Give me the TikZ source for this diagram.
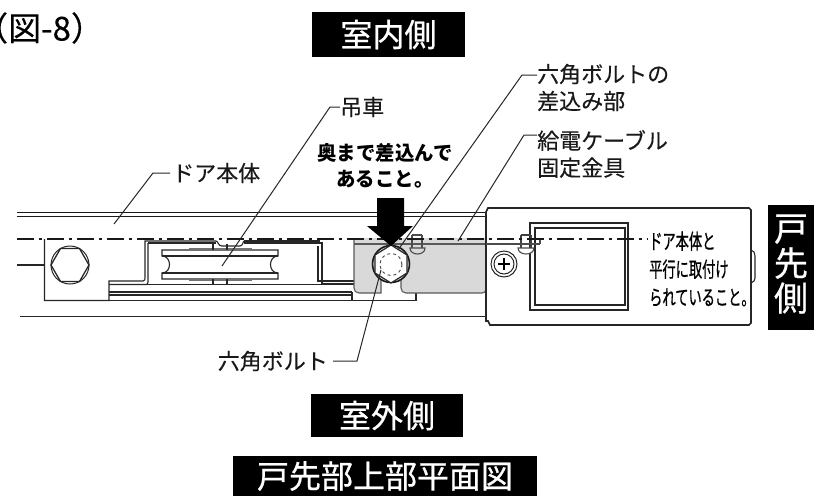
\documentclass[tikz,border=0pt]{standalone}
\usepackage{fontspec}
\setmainfont{Noto Sans CJK JP}[FakeBold=0.25]
\newfontfamily\condfont{Noto Sans CJK JP}[FakeStretch=0.63,FakeBold=0.6]
\newfontfamily\heavyfont{Noto Sans CJK JP}[FakeStretch=0.97]
\newfontfamily\tagfont{Noto Sans CJK JP}[FakeBold=0.7]
\begin{document}
\begin{tikzpicture}[x=1pt,y=-1pt,
  lbl/.style={inner sep=0pt,font=\fontsize{22}{27}\selectfont,align=left,anchor=west,text=black!90},
  bold/.style={inner sep=0pt,font=\heavyfont\bfseries\fontsize{20}{26}\selectfont,align=center,text=black},
  note/.style={inner sep=0pt,font=\condfont\fontsize{21}{28}\selectfont,align=left,anchor=west,text=black},
  tag/.style={fill=black,text=white,inner sep=0pt,font=\tagfont\fontsize{32}{36}\selectfont,align=center},
  thick line/.style={line width=1.7pt,black!85},
  thin line/.style={line width=1.1pt,black!85},
  lead/.style={line width=1pt,black!85},
  cl/.style={line width=2pt,black!90,dash pattern=on 17pt off 5pt on 3pt off 5pt}]
\useasboundingbox (0,0) rectangle (824,496);
% door rails
\draw[line width=1.8pt,black!90] (17,212.5)--(486,212.5);
\draw[line width=1.8pt,black!90] (17,216.5)--(486,216.5);
\draw[thick line] (20,316.5)--(486,316.5);
\draw[thin line] (17,265)--(44.5,265);
% left block
\draw[thin line] (44.5,239)--(44.5,300.5)--(109,300.5)--(109,281)--(143,281) .. controls (145,281) and (145,279) .. (145,278)--(145,241)--(216,241);
\draw[thin line] (244,241)--(320,241);
\draw[thin line] (148,243)--(148,282) .. controls (148,284) and (147,284.5) .. (146,284.5)--(109,284.5);
\draw[thin line] (148,243)--(216,243);
\draw[thin line] (244,243)--(322,243)--(322,284)--(354,284);
\draw[thin line] (318,246)--(318,281)--(354,281);
\draw[thin line] (109,284.5)--(352,284.5);
\draw[thin line] (109,292)--(352,292);
\draw[thin line] (109,295)--(352,295);
\draw[line width=1.3pt,black!85] (109,300.5)--(416,300.5)--(416,293);
\draw[thin line] (352,292)--(352,300.5);
% hex bolt left
\node[draw=black!85,circle,minimum size=38pt,inner sep=0pt,line width=1pt] (hexa) at (70,265) {};
\draw[line width=1.3pt,black!85] (89,265)--(79.5,248.5)--(60.5,248.5)--(51,265)--(60.5,281.5)--(79.5,281.5)--cycle;
% wheel
\draw[thin line,fill=white] (162,250)--(278,250)--(278,256) .. controls (268,256) and (268,273) .. (278,273)--(278,279)--(162,279)--(162,273) .. controls (172,273) and (172,256) .. (162,256)--cycle;
\draw[thin line] (162,256)--(278,256);
\draw[thin line] (162,273)--(278,273);
\draw[line width=2pt,black!55] (189,249)--(252,249);
\draw[line width=2pt,black!55] (189,280)--(252,280);
\draw[thin line] (213,244)--(213,250) (227,244)--(227,250) (213,279)--(213,285) (227,279)--(227,285);
\draw[thin line] (216,241) .. controls (218,241) and (218,246) .. (222,246)--(240,246) .. controls (243,246) and (243,241) .. (244,241);
% gray plate
\path[fill=black!15] (354,238)--(486,238)--(486,289) .. controls (486,292) and (484,293) .. (482,293)--(406,293) .. controls (403,293) and (401,291) .. (401,288)--(401,270)--(381,270)--(381,293)--(359,293) .. controls (356,293) and (354,291) .. (354,288)--cycle;
\draw[thin line,black!65] (354,238)--(354,288) .. controls (354,291) and (356,293) .. (359,293)--(381,293)--(381,270);
\draw[thin line,black!65] (401,270)--(401,288) .. controls (401,291) and (403,293) .. (406,293)--(482,293) .. controls (484,293) and (486,292) .. (486,289);
\draw[thin line,black!65] (354,244)--(486,244);
% hex bolt centre
\node[draw=black!90,circle,fill=black!15,minimum size=37pt,inner sep=0pt,line width=1.6pt] (hexc) at (391,264) {};
\draw[line width=1.2pt,black!85,fill=white] (391,245)--(407,255)--(407,273)--(391,283)--(375,273)--(375,255)--cycle;
\node[draw=black!70,dashed,circle,fill=white,minimum size=22pt,inner sep=0pt,line width=.9pt] (bore) at (391,264.5) {};
% small bolts
\draw[thin line,black!70] (412,235)--(412,248) (422,235)--(422,248) (412,235)--(422,235);
\draw[thin line,black!70,fill=black!15] (410,248) .. controls (410,256) and (425,256) .. (425,248)--cycle;
% door head
\draw[thick line,fill=white] (486,212) -- (488,208)--(749,208)--(751,210)--(751,323)--(749,325)--(490,325)--(488,321)--(486,321)--(486,212);
\draw[thin line] (751,250)--(754,252)--(755,256)--(755,278)--(754,281)--(751,283);
\draw[line width=1.3pt,black!85] (530,223)--(628,223)--(628,310)--(530,310)--cycle;
\draw[line width=1.3pt,black!85] (535,228)--(625,228)--(625,305)--(535,305)--cycle;
% small bolt on head
\draw[thin line,black!75] (521,235)--(521,248) (531,235)--(531,248) (521,235)--(531,235);
\draw[thin line,black!70,fill=white] (518,248) .. controls (518,256) and (534,256) .. (534,248)--cycle;
\draw[thin line,black!70] (486,244)--(540,244) (540,238)--(540,244);
% screw
\node[draw=black!85,circle,minimum size=26pt,inner sep=0pt,line width=1pt] (screwo) at (504,264) {};
\node[draw=black!85,circle,minimum size=20pt,inner sep=0pt,line width=1pt] (screwi) at (504,264) {};
\draw[line width=2pt] (498,264)--(510,264) (504,258)--(504,270);
% centreline
\draw[cl] (17,238.5)--(648,238.5);
% arrow
\fill[black] (377,198)--(404,198)--(404,226)--(413,226)--(391,246)--(367,226)--(377,226)--cycle;
% leaders
\coordinate (a1) at (537,75); \coordinate (a2) at (522,75); \coordinate (a3) at (398,250);
\draw[lead] (a1)--(a2)--(a3);
\coordinate (b1) at (537,135); \coordinate (b2) at (524,135); \coordinate (b3) at (458,241);
\draw[lead] (b1)--(b2)--(b3);
\coordinate (c1) at (340,107); \coordinate (c2) at (330,107); \coordinate (c3) at (222,266);
\draw[lead] (c1)--(c2)--(c3);
\coordinate (d1) at (170,173); \coordinate (d2) at (153,173); \coordinate (d3) at (114,224);
\draw[lead] (d1)--(d2)--(d3);
\coordinate (e1) at (333,361); \coordinate (e2) at (357,361); \coordinate (e3) at (381,270);
\draw[lead] (e1)--(e2)--(e3);
% labels
\node[inner sep=0pt,font=\fontsize{33}{36}\selectfont,anchor=west] (fig) at (-25,28) {（図-8）};
\node[tag,minimum width=153pt,minimum height=45pt] (t1) at (388.5,34.5) {室内側};
\node[tag,minimum width=152pt,minimum height=43pt] (t2) at (387,415.5) {室外側};
\node[tag,minimum width=304pt,minimum height=40pt] (t3) at (385,476) {戸先部上部平面図};
\node[fill=black,minimum width=46pt,minimum height=125pt,inner sep=0pt] (t4) at (791,267.5) {};
\node[text=white,inner sep=0pt,align=center,font=\tagfont\fontsize{34}{35}\selectfont] (t4t) at (791,264) {戸\\先\\側};
\node[lbl] (l1) at (537,87.5) {六角ボルトの\\差込み部};
\node[lbl] (l2) at (537,154) {給電ケーブル\\固定金具};
\node[lbl] (l3) at (340,107) {吊車};
\node[lbl] (l4) at (172,173) {ドア本体};
\node[lbl,anchor=east] (l5) at (328,361) {六角ボルト};
\node[bold] (l6) at (385,166) {奥まで差込んで\\あること。};
\node[note] (l7) at (649,269) {ドア本体と\\平行に取付け\\られていること。};
\end{tikzpicture}
\end{document}
